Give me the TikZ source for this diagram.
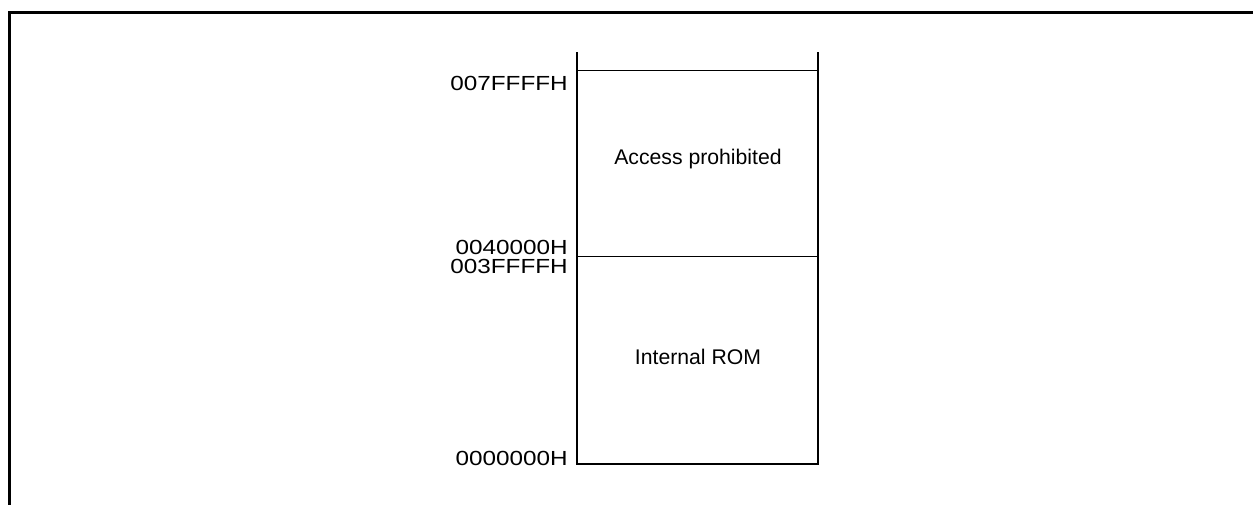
\documentclass[tikz,border=0pt]{standalone}
\usepackage{fontspec}
\setmainfont{Liberation Sans}
\newfontfamily\addrfont[FakeStretch=1.19]{Liberation Sans}
\begin{document}
\begin{tikzpicture}[x=0.75pt,y=-0.75pt,
  frameline/.style={line width=2.25pt},
  wallline/.style={line width=1.5pt},
  sepline/.style={line width=0.75pt},
  addr/.style={anchor=base east,inner sep=0pt,font=\addrfont\fontsize{15.3}{18}\selectfont},
  region/.style={inner sep=0pt,font=\fontsize{15.9}{18}\selectfont}]
\useasboundingbox (0,0) rectangle (1253,504);
\clip (0,0) rectangle (1253,504);
% outer frame (open to the right and bottom)
\draw[frameline] (9.5,520) -- (9.5,12.5) -- (1270,12.5);
% memory map
\coordinate (tl) at (577,52);
\coordinate (tr) at (818,52);
\coordinate (bl) at (577,464);
\coordinate (br) at (818,464);
\coordinate (topL) at (577,70.3);
\coordinate (topR) at (818,70.3);
\coordinate (midL) at (577,256);
\coordinate (midR) at (818,256);
\draw[wallline] (tl) -- (bl) -- (br) -- (tr);
\draw[sepline] (topL) -- (topR);
\draw[sepline] (midL) -- (midR);
% region labels
\node[region] (ap) at (698,159) {Access prohibited};
\node[region] (rom) at (698,357) {Internal ROM};
% address labels
\node[addr] (a1) at (568,90.7) {007FFFFH};
\node[addr] (a2) at (568,254.7) {0040000H};
\node[addr] (a3) at (568,273) {003FFFFH};
\node[addr] (a4) at (568,465) {0000000H};
\end{tikzpicture}
\end{document}
